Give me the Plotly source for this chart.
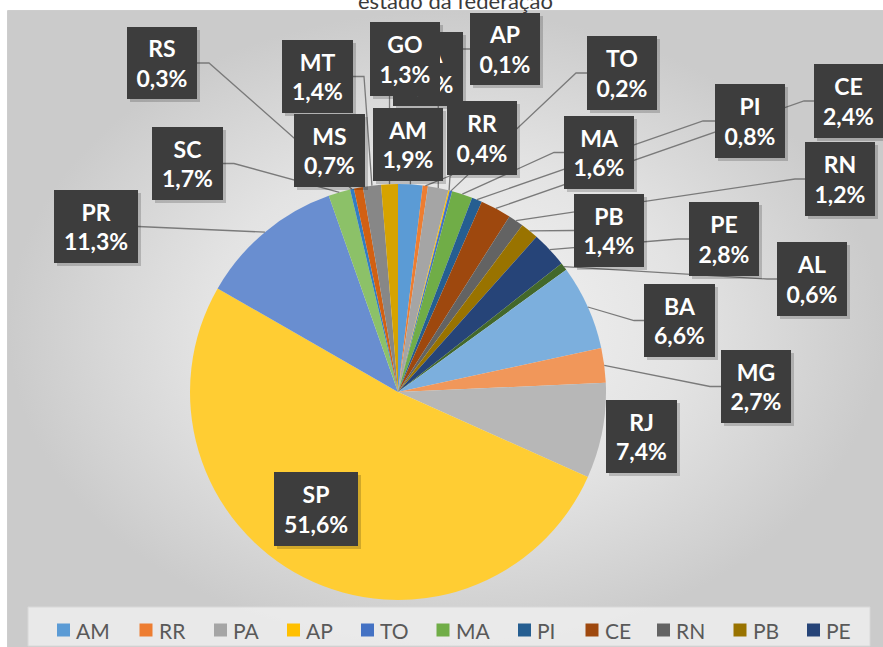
import numpy as np
import plotly.graph_objects as go

# ---------------- data ----------------
states = ["AM", "RR", "PA", "AP", "TO", "MA", "PI", "CE", "RN", "PB", "PE",
          "AL", "BA", "MG", "RJ", "SP", "PR", "SC", "RS", "MS", "MT", "GO"]
shares = [1.9, 0.4, 1.6, 0.1, 0.2, 1.6, 0.8, 2.4, 1.2, 1.4, 2.8,
          0.6, 6.6, 2.7, 7.4, 51.6, 11.3, 1.7, 0.3, 0.7, 1.4, 1.3]
colors = ["#5B9BD5", "#ED7D31", "#A5A5A5", "#FFC000", "#4472C4", "#70AD47",
          "#255E91", "#9E480E", "#636363", "#997300", "#264478", "#43682B",
          "#7CAFDD", "#F1975A", "#B7B7B7", "#FFCD33", "#698ED0", "#8CC168",
          "#327DC2", "#D26012", "#878787", "#D6A300"]
legend_states = states[:11]
title_text = "estado da federação"

# ---------------- layout (pixel geometry) ----------------
W, H = 883, 647
CX, CY, R = 398, 392, 208

# label box: left, top, width, height, leader side, elbow length
label_boxes = {
    "AM": (373, 108, 70, 73, "b", 0),
    "RR": (447, 101, 70, 74, "b", 0),
    "PA": (393, 32, 70, 74, "b", 0),
    "AP": (470, 13, 70, 72, "l", 12),
    "TO": (587, 36, 70, 74, "l", 11),
    "MA": (564, 116, 70, 73, "l", 10),
    "PI": (715, 84, 70, 74, "l", 12),
    "CE": (814, 64, 69, 74, "l", 10),
    "RN": (805, 142, 70, 74, "l", 10),
    "PB": (574, 194, 70, 73, "l", 0),
    "PE": (689, 202, 70, 74, "l", 11),
    "AL": (777, 242, 70, 74, "l", 10),
    "BA": (644, 284, 71, 73, "l", 10),
    "MG": (721, 350, 70, 73, "l", 11),
    "RJ": (606, 400, 71, 73, None, 0),
    "SP": (274, 472, 84, 74, None, 0),
    "PR": (54, 190, 84, 73, "r", 0),
    "SC": (152, 127, 71, 73, "r", 11),
    "RS": (127, 27, 70, 72, "r", 12),
    "MS": (294, 114, 71, 73, None, 0),
    "MT": (282, 40, 71, 73, "r", 11),
    "GO": (370, 22, 70, 74, "b", 0),
}
legend_x = [57, 139.5, 214, 287, 361, 436.5, 518, 585.5, 657, 733.5, 807]

# ---------------- geometry from data ----------------
vals = np.array(shares, dtype=float)
tot = vals.sum()
cum = np.cumsum(vals) - vals / 2.0
theta = 2 * np.pi * cum / tot
px = CX + R * np.sin(theta)
py = CY - R * np.cos(theta)

fig = go.Figure()

# background gradient panel
fig.add_trace(go.Scatter(
    x=[8, W, W, 8, 8], y=[11, 11, H, H, 11], mode="lines", fill="toself",
    line=dict(width=0), hoverinfo="skip", showlegend=False,
    fillgradient=dict(type="radial",
                      colorscale=[[0, "#f5f5f5"], [0.55, "#e3e3e3"], [1, "#cbcbcb"]]),
))

fig.add_trace(go.Pie(
    labels=states, values=shares, sort=False, direction="clockwise", rotation=0,
    marker=dict(colors=colors, line=dict(width=0)),
    textinfo="none", hoverinfo="label+percent", showlegend=False,
    domain=dict(x=[(CX - R) / W, (CX + R) / W], y=[(H - CY - R) / H, (H - CY + R) / H]),
))

shapes = []
annotations = []

# chart border
shapes.append(dict(type="rect", xref="x", yref="y", x0=8, y0=11, x1=W + 2, y1=H + 2,
                   line=dict(color="#bdbdbd", width=1.5), fillcolor="rgba(0,0,0,0)", layer="below"))

# leader lines
for i, s in enumerate(states):
    left, top, w, h, side, el = label_boxes[s]
    if side is None:
        continue
    if side == "l":
        ax, ay = left, top + h / 2
        ex, ey = ax - el, ay
    elif side == "r":
        ax, ay = left + w, top + h / 2
        ex, ey = ax + el, ay
    else:
        ax = min(max(px[i], left + 5), left + w - 5)
        ay = top + h
        ex, ey = ax, ay
    path = f"M {ax},{ay} L {ex},{ey} L {px[i]:.2f},{py[i]:.2f}"
    shapes.append(dict(type="path", xref="x", yref="y", path=path,
                       line=dict(color="#7a7a7a", width=1.3), layer="above"))

# box shadows
for s in states:
    left, top, w, h, side, el = label_boxes[s]
    shapes.append(dict(type="rect", xref="x", yref="y", x0=left + 3, y0=top + 3,
                       x1=left + w + 3, y1=top + h + 3,
                       fillcolor="rgba(0,0,0,0.18)", line=dict(width=0), layer="above"))

# labels
for i, s in enumerate(states):
    left, top, w, h, side, el = label_boxes[s]
    pct = f"{shares[i]:.1f}".replace(".", ",") + "%"
    annotations.append(dict(
        x=left + w / 2, y=top + h / 2, xref="x", yref="y",
        text=f"<b>{s}</b><br><b>{pct}</b>", showarrow=False,
        width=w, height=h, bgcolor="#3d3d3d", borderpad=0, borderwidth=0,
        align="center", valign="middle",
        font=dict(family="Lato, 'Open Sans', sans-serif", size=23, color="white"),
    ))

# legend box
shapes.append(dict(type="rect", xref="x", yref="y", x0=28, y0=607, x1=870, y1=646,
                   fillcolor="rgba(238,238,238,0.85)", line=dict(color="#d8d8d8", width=1),
                   layer="above"))
for i, s in enumerate(legend_states):
    x0 = legend_x[i]
    shapes.append(dict(type="rect", xref="x", yref="y", x0=x0, y0=623.5, x1=x0 + 13, y1=636.5,
                       fillcolor=colors[i], line=dict(width=0), layer="above"))
    annotations.append(dict(
        x=x0 + 17, y=630, xref="x", yref="y", text=s, showarrow=False,
        xanchor="left", yanchor="middle",
        font=dict(family="Lato, 'Open Sans', sans-serif", size=21, color="#595959"),
    ))

# title (cut off at the top, as in the original)
annotations.append(dict(
    x=455, y=0, xref="x", yref="y", text=title_text, showarrow=False,
    xanchor="center", yanchor="middle",
    font=dict(family="Lato, 'Open Sans', sans-serif", size=22, color="#3a3a3a"),
))

fig.update_layout(
    width=W, height=H, margin=dict(l=0, r=0, t=0, b=0),
    paper_bgcolor="white", plot_bgcolor="rgba(0,0,0,0)",
    xaxis=dict(range=[0, W], visible=False, fixedrange=True),
    yaxis=dict(range=[H, 0], visible=False, fixedrange=True),
    shapes=shapes, annotations=annotations, showlegend=False,
)

fig.write_html(
    "out.html",
    config={"displayModeBar": False},
    post_script="document.body.style.margin='0px';document.body.style.overflow='hidden';",
)
